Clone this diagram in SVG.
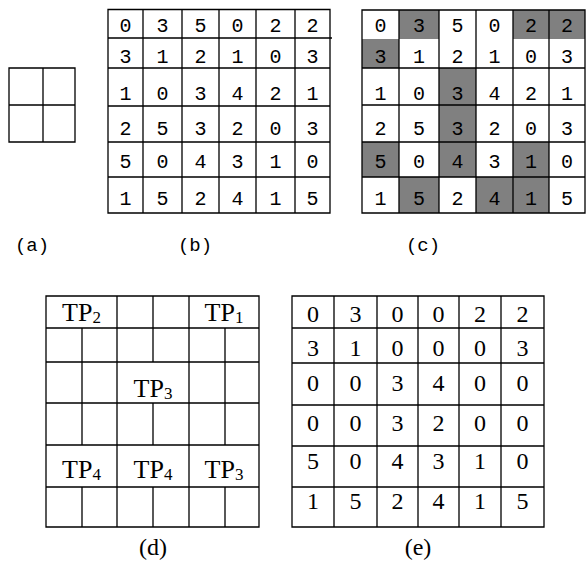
<svg xmlns="http://www.w3.org/2000/svg" width="586" height="570" viewBox="0 0 586 570">
<style>
.ln{stroke:#000;stroke-width:1.3;fill:none}
.g{fill:#808080}
.px{font-family:"Liberation Mono","DejaVu Sans Mono",monospace;font-size:20px;text-anchor:middle;fill:#000}
.lb{font-family:"Liberation Mono","DejaVu Sans Mono",monospace;font-size:19px;text-anchor:middle;fill:#000}
.tm{font-family:"Liberation Serif","Times New Roman",serif;font-size:24px;text-anchor:middle;fill:#000}
.tp{font-family:"Liberation Serif","Times New Roman",serif;font-size:26px;text-anchor:middle;fill:#000}
.sb{font-size:17px}
</style>
<rect width="586" height="570" fill="#fff"/>

<g id="a">
<path class="ln" d="M9 68H75V142H9Z M43 68V142 M9 105H75"/>
<text class="lb" x="32" y="251">(a)</text>
</g>

<g id="b">
<path class="ln" d="M108 9.5H330V213H108Z M143 9.5V213 M182 9.5V213 M219 9.5V213 M256 9.5V213 M295 9.5V213 M108 38H332 M108 68H330 M108 106H330 M108 142H330 M108 177H330"/>
<g class="px">
<text x="125.5" y="32">0</text><text x="162.5" y="32">3</text><text x="200.5" y="32">5</text><text x="237.5" y="32">0</text><text x="275.5" y="32">2</text><text x="312.5" y="32">2</text>
<text x="125.5" y="63">3</text><text x="162.5" y="63">1</text><text x="200.5" y="63">2</text><text x="237.5" y="63">1</text><text x="275.5" y="63">0</text><text x="312.5" y="63">3</text>
<text x="125.5" y="100">1</text><text x="162.5" y="100">0</text><text x="200.5" y="100">3</text><text x="237.5" y="100">4</text><text x="275.5" y="100">2</text><text x="312.5" y="100">1</text>
<text x="125.5" y="135">2</text><text x="162.5" y="135">5</text><text x="200.5" y="135">3</text><text x="237.5" y="135">2</text><text x="275.5" y="135">0</text><text x="312.5" y="135">3</text>
<text x="125.5" y="168">5</text><text x="162.5" y="168">0</text><text x="200.5" y="168">4</text><text x="237.5" y="168">3</text><text x="275.5" y="168">1</text><text x="312.5" y="168">0</text>
<text x="125.5" y="205">1</text><text x="162.5" y="205">5</text><text x="200.5" y="205">2</text><text x="237.5" y="205">4</text><text x="275.5" y="205">1</text><text x="312.5" y="205">5</text>
</g>
<text class="lb" x="195" y="251">(b)</text>
</g>

<g id="c">
<g class="g">
<rect x="399" y="10" width="40" height="29"/>
<rect x="513" y="10" width="72" height="29"/>
<rect x="362" y="39" width="37" height="29"/>
<rect x="439" y="68" width="37" height="74"/>
<rect x="362" y="142" width="37" height="35"/>
<rect x="439" y="142" width="37" height="35"/>
<rect x="513" y="142" width="36" height="71"/>
<rect x="399" y="177" width="40" height="36"/>
<rect x="476" y="177" width="37" height="36"/>
</g>
<path class="ln" d="M362 10H585V213H362Z M399 10V213 M439 10V213 M476 10V213 M513 10V213 M549 10V213 M362 68H585 M362 105H585 M362 142H585 M362 177H585"/>
<g class="px">
<text x="380.5" y="32">0</text><text x="419" y="32">3</text><text x="457.5" y="32">5</text><text x="494.5" y="32">0</text><text x="531" y="32">2</text><text x="567" y="32">2</text>
<text x="380.5" y="63">3</text><text x="419" y="63">1</text><text x="457.5" y="63">2</text><text x="494.5" y="63">1</text><text x="531" y="63">0</text><text x="567" y="63">3</text>
<text x="380.5" y="100">1</text><text x="419" y="100">0</text><text x="457.5" y="100">3</text><text x="494.5" y="100">4</text><text x="531" y="100">2</text><text x="567" y="100">1</text>
<text x="380.5" y="135">2</text><text x="419" y="135">5</text><text x="457.5" y="135">3</text><text x="494.5" y="135">2</text><text x="531" y="135">0</text><text x="567" y="135">3</text>
<text x="380.5" y="168">5</text><text x="419" y="168">0</text><text x="457.5" y="168">4</text><text x="494.5" y="168">3</text><text x="531" y="168">1</text><text x="567" y="168">0</text>
<text x="380.5" y="205">1</text><text x="419" y="205">5</text><text x="457.5" y="205">2</text><text x="494.5" y="205">4</text><text x="531" y="205">1</text><text x="567" y="205">5</text>
</g>
<text class="lb" x="423" y="251">(c)</text>
</g>

<g id="d">
<path class="ln" d="M46 296H259V527H46Z M46 328H259 M46 362H259 M46 403H259 M46 445H259 M46 487H259
M82 328V445 M82 487V527
M117 296V527
M153 296V362 M153 403V445 M153 487V527
M189 296V527
M225 328V445 M225 487V527"/>
<text class="tp" x="81.5" y="321">TP<tspan class="sb" dy="2">2</tspan></text>
<text class="tp" x="224" y="321">TP<tspan class="sb" dy="2">1</tspan></text>
<text class="tp" x="153" y="397">TP<tspan class="sb" dy="2">3</tspan></text>
<text class="tp" x="81.5" y="478">TP<tspan class="sb" dy="2">4</tspan></text>
<text class="tp" x="153" y="478">TP<tspan class="sb" dy="2">4</tspan></text>
<text class="tp" x="224" y="478">TP<tspan class="sb" dy="2">3</tspan></text>
<text class="tm" x="153" y="555">(d)</text>
</g>

<g id="e">
<path class="ln" d="M292 296H544V527H292Z M334 296V527 M377 296V527 M418 296V527 M459 296V527 M501 296V527 M292 328H544 M292 363H544 M292 405H544 M292 446H544 M292 487H544"/>
<g class="tm">
<text x="313" y="322">0</text><text x="355.5" y="322">3</text><text x="397.5" y="322">0</text><text x="438.5" y="322">0</text><text x="480" y="322">2</text><text x="522.5" y="322">2</text>
<text x="313" y="356">3</text><text x="355.5" y="356">1</text><text x="397.5" y="356">0</text><text x="438.5" y="356">0</text><text x="480" y="356">0</text><text x="522.5" y="356">3</text>
<text x="313" y="391">0</text><text x="355.5" y="391">0</text><text x="397.5" y="391">3</text><text x="438.5" y="391">4</text><text x="480" y="391">0</text><text x="522.5" y="391">0</text>
<text x="313" y="431">0</text><text x="355.5" y="431">0</text><text x="397.5" y="431">3</text><text x="438.5" y="431">2</text><text x="480" y="431">0</text><text x="522.5" y="431">0</text>
<text x="313" y="469">5</text><text x="355.5" y="469">0</text><text x="397.5" y="469">4</text><text x="438.5" y="469">3</text><text x="480" y="469">1</text><text x="522.5" y="469">0</text>
<text x="313" y="509">1</text><text x="355.5" y="509">5</text><text x="397.5" y="509">2</text><text x="438.5" y="509">4</text><text x="480" y="509">1</text><text x="522.5" y="509">5</text>
</g>
<text class="tm" x="418" y="555">(e)</text>
</g>
</svg>
